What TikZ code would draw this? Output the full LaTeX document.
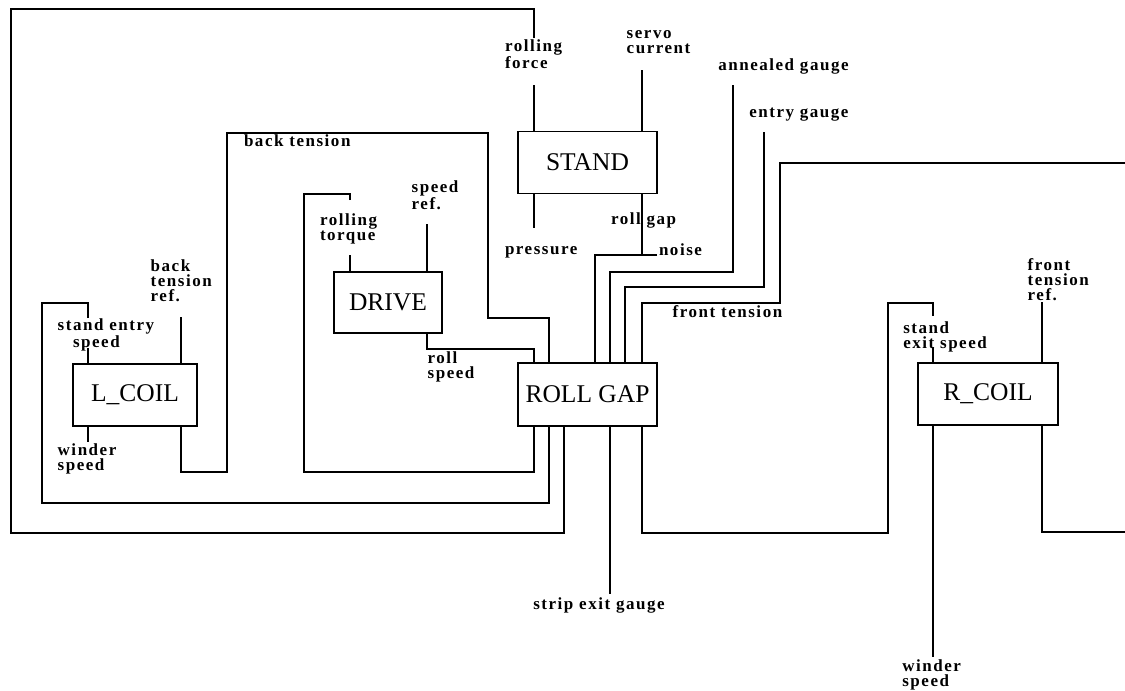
\documentclass[tikz,border=0pt]{standalone}
\usepackage{fontspec}
\setmainfont{Liberation Serif}
\newfontfamily\lblfont[LetterSpace=9]{Liberation Serif}
\begin{document}
\begin{tikzpicture}[x=1pt,y=-1pt,line width=1.8pt,line join=miter]
\tikzset{
  lbl/.style={font=\lblfont\bfseries\fontsize{17}{15}\selectfont,inner sep=0pt,outer sep=0pt,anchor=base west,align=left},
  blk/.style={draw,line width=1.8pt,font=\fontsize{25.5}{28}\selectfont,inner sep=0pt,outer sep=0pt}
}
\useasboundingbox (0,0) rectangle (1125,691);
% blocks
\node[blk,minimum width=139pt,minimum height=62pt] (stand) at (587.5,162.5) {STAND};
\node[blk,minimum width=139pt,minimum height=63pt] (rollgap) at (587.5,394.5) {ROLL GAP};
\node[blk,minimum width=108pt,minimum height=61pt] (drive) at (388,302.5) {DRIVE};
\node[blk,minimum width=124pt,minimum height=62pt] (lcoil) at (135,395) {L\_COIL};
\node[blk,minimum width=140pt,minimum height=62pt] (rcoil) at (988,394) {R\_COIL};
% labels (anchor: baseline of the last line)
\node[lbl] (l_rf) at (505,68.3) {rolling\\force};
\node[lbl] (l_sc) at (626.7,53.3) {servo\\current};
\node[lbl] (l_ag) at (718.3,70) {annealed gauge};
\node[lbl] (l_eg) at (749.3,117) {entry gauge};
\node[lbl] (l_pr) at (505,254) {pressure};
\node[lbl] (l_rg) at (611,224) {roll gap};
\node[lbl] (l_ns) at (659,255) {noise};
\node[lbl] (l_ft) at (672.7,317.3) {front tension};
\node[lbl] (l_bt) at (244,146.7) {back tension};
\node[lbl] (l_sr) at (411.7,209.3) {speed\\ref.};
\node[lbl] (l_rt) at (320,240) {rolling\\torque};
\node[lbl] (l_rs) at (427.7,378.3) {roll\\speed};
\node[lbl] (l_btr) at (150.7,301.7) {back\\tension\\ref.};
\node[lbl] (l_se) at (57.7,347.3) {stand entry\\\hspace*{15.3pt}speed};
\node[lbl] (l_wl) at (57.7,470) {winder\\speed};
\node[lbl] (l_sx) at (533.3,609) {strip exit gauge};
\node[lbl] (l_sxs) at (903.3,348.3) {stand\\exit speed};
\node[lbl] (l_ftr) at (1027.7,300) {front\\tension\\ref.};
\node[lbl] (l_wr) at (902.3,686) {winder\\speed};
% free ends
\coordinate (rfT) at (534,38);
\coordinate (rfB) at (534,85);
\coordinate (prE) at (534,228);
\coordinate (svE) at (642,70);
\coordinate (rgE) at (642,255);
\coordinate (nsE) at (657,255);
\coordinate (anE) at (733,85);
\coordinate (egE) at (764,132);
\coordinate (ftE) at (1125,163);
\coordinate (btrE) at (181,317);
\coordinate (seT) at (88.3,318);
\coordinate (seB) at (88.3,348);
\coordinate (wlE) at (88.3,442);
\coordinate (rtT) at (350,200);
\coordinate (rtB) at (350,255);
\coordinate (srE) at (427,224);
\coordinate (sxE) at (610,594);
\coordinate (sxT) at (933,316);
\coordinate (sxB) at (933,347);
\coordinate (ftrE) at (1042,302);
\coordinate (wrE) at (933,657);
\coordinate (rE) at (1125,532);
% connectors
\draw (rfT) -- (534,9) -- (11,9) -- (11,533) -| (rollgap.south -| 564,0);
\draw (rfB) -- (stand.north -| rfB);
\draw (stand.south -| prE) -- (prE);
\draw (svE) -- (stand.north -| svE);
\draw (stand.south -| rgE) -- (rgE);
\draw (nsE) -- (595,255) -- (rollgap.north -| 595,0);
\draw (anE) |- (610,272) -- (rollgap.north -| 610,0);
\draw (egE) |- (625,287) -- (rollgap.north -| 625,0);
\draw (ftE) -| (780,303) -| (rollgap.north -| 642,0);
\draw (lcoil.south -| 181,0) |- (227,472) |- (488,132.7) |- (549,318) -- (rollgap.north -| 549,0);
\draw (btrE) -- (lcoil.north -| btrE);
\draw (lcoil.north -| seB) -- (seB);
\draw (seT) |- (41.7,303) |- (549,502.7) -- (rollgap.south -| 549,0);
\draw (lcoil.south -| wlE) -- (wlE);
\draw (drive.north -| rtB) -- (rtB);
\draw (rtT) |- (304,194) |- (534,472) -- (rollgap.south -| 534,0);
\draw (srE) -- (drive.north -| srE);
\draw (drive.south -| 427,0) |- (534,349) -- (rollgap.north -| 534,0);
\draw (rollgap.south -| sxE) -- (sxE);
\draw (rollgap.south -| 642,0) |- (888,533) |- (933,303) -- (sxT);
\draw (sxB) -- (rcoil.north -| sxB);
\draw (ftrE) -- (rcoil.north -| ftrE);
\draw (rcoil.south -| wrE) -- (wrE);
\draw (rcoil.south -| 1042,0) |- (rE);
\end{tikzpicture}
\end{document}
